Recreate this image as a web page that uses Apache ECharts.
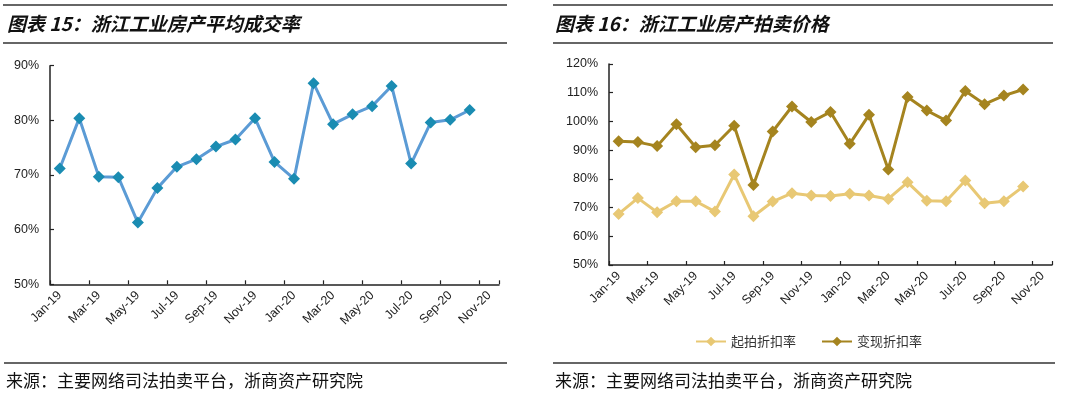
<!DOCTYPE html>
<html><head><meta charset="utf-8">
<script src="https://cdn.jsdelivr.net/npm/echarts@6/dist/echarts.min.js"></script>
<style>html,body{margin:0;padding:0;background:#fff}#c{width:1080px;height:400px}</style>
</head><body><div id="c"></div>
<script>
const months = ['Jan-19','Feb-19','Mar-19','Apr-19','May-19','Jun-19','Jul-19','Aug-19','Sep-19','Oct-19','Nov-19','Dec-19',
  'Jan-20','Feb-20','Mar-20','Apr-20','May-20','Jun-20','Jul-20','Aug-20','Sep-20','Oct-20','Nov-20'];
const dealRate = [71.2,80.4,69.7,69.6,61.3,67.6,71.5,72.9,75.2,76.5,80.4,72.4,69.3,86.8,79.3,81.1,82.6,86.3,72.1,79.6,80.1,81.9];
const startDiscount = [67.8,73.3,68.4,72.2,72.2,68.6,81.5,67.0,72.1,75.0,74.2,74.0,74.8,74.2,73.0,78.8,72.4,72.2,79.4,71.5,72.2,77.3];
const realizeDiscount = [93.1,92.8,91.4,99.0,91.0,91.7,98.5,77.9,96.5,105.2,99.8,103.3,92.2,102.3,83.3,108.5,103.8,100.3,110.6,106.0,109.0,111.1];
const title1 = '图表 15：浙江工业房产平均成交率';
const title2 = '图表 16：浙江工业房产拍卖价格';
const source = '来源：主要网络司法拍卖平台，浙商资产研究院';
const legendNames = ['起拍折扣率','变现折扣率'];

const chart = echarts.init(document.getElementById('c'));
const latin = 'Liberation Sans, Arial, sans-serif';
const cjk = 'Noto Sans CJK SC';
function xAxis(gi){
  return {type:'category', gridIndex:gi, data:months, boundaryGap:true,
    axisLine:{lineStyle:{color:'#222', width:1.5}},
    axisTick:{show:true, inside:true, length:4, interval:1, lineStyle:{color:'#222', width:1.2}},
    axisLabel:{interval:1, rotate:45, margin:9, color:'#222', fontSize:12.5, fontFamily:latin},
    splitLine:{show:false}};
}
function yAxis(gi,min,max){
  return {type:'value', gridIndex:gi, min:min, max:max, interval:10,
    axisLine:{show:true, lineStyle:{color:'#222', width:1.5}},
    axisTick:{show:true, inside:true, length:4, lineStyle:{color:'#222', width:1.2}},
    axisLabel:{formatter:v=>v+'%', color:'#222', fontSize:12.5, fontFamily:latin, margin:11},
    splitLine:{show:false}};
}
function hline(x1,x2,y){return {type:'line', shape:{x1:x1,y1:y,x2:x2,y2:y}, style:{stroke:'#333', lineWidth:1.5}};}
function txt(x,y,t,size,bold,italic){return {type:'text', x:x, y:y, style:{text:t, fill:'#111', font:(italic?'italic ':'')+(bold?'bold ':'')+size+'px '+cjk, textVerticalAlign:'middle'}};}

chart.setOption({
  animation:false,
  grid:[{left:50, top:65.7, width:449, height:218.6},{left:609, top:64, width:443, height:201}],
  xAxis:[xAxis(0), xAxis(1)],
  yAxis:[yAxis(0,50,90), yAxis(1,50,120)],
  legend:{left:690, top:330, itemWidth:30, itemHeight:12, itemGap:25, data:legendNames,
    textStyle:{fontFamily:cjk, fontSize:13, color:'#333'}},
  series:[
    {name:'平均成交率', type:'line', xAxisIndex:0, yAxisIndex:0, data:dealRate, symbol:'diamond', symbolSize:12,
      lineStyle:{color:'#5B9BD5', width:3}, itemStyle:{color:'#1A8CB2'}},
    {name:legendNames[0], type:'line', xAxisIndex:1, yAxisIndex:1, data:startDiscount, symbol:'diamond', symbolSize:12,
      lineStyle:{color:'#E8C874', width:3}, itemStyle:{color:'#E8C874'}},
    {name:legendNames[1], type:'line', xAxisIndex:1, yAxisIndex:1, data:realizeDiscount, symbol:'diamond', symbolSize:12,
      lineStyle:{color:'#A5841F', width:3}, itemStyle:{color:'#A5841F'}}
  ],
  graphic:[
    hline(3,507,5), hline(3,507,43), hline(4,507,363),
    hline(553,1053,5), hline(553,1053,43), hline(553,1055,363),
    txt(7,24,title1,19,true,true), txt(555,24,title2,19,true,true),
    txt(6,381,source,17,false,false), txt(555,381,source,17,false,false)
  ]
});
</script></body></html>
